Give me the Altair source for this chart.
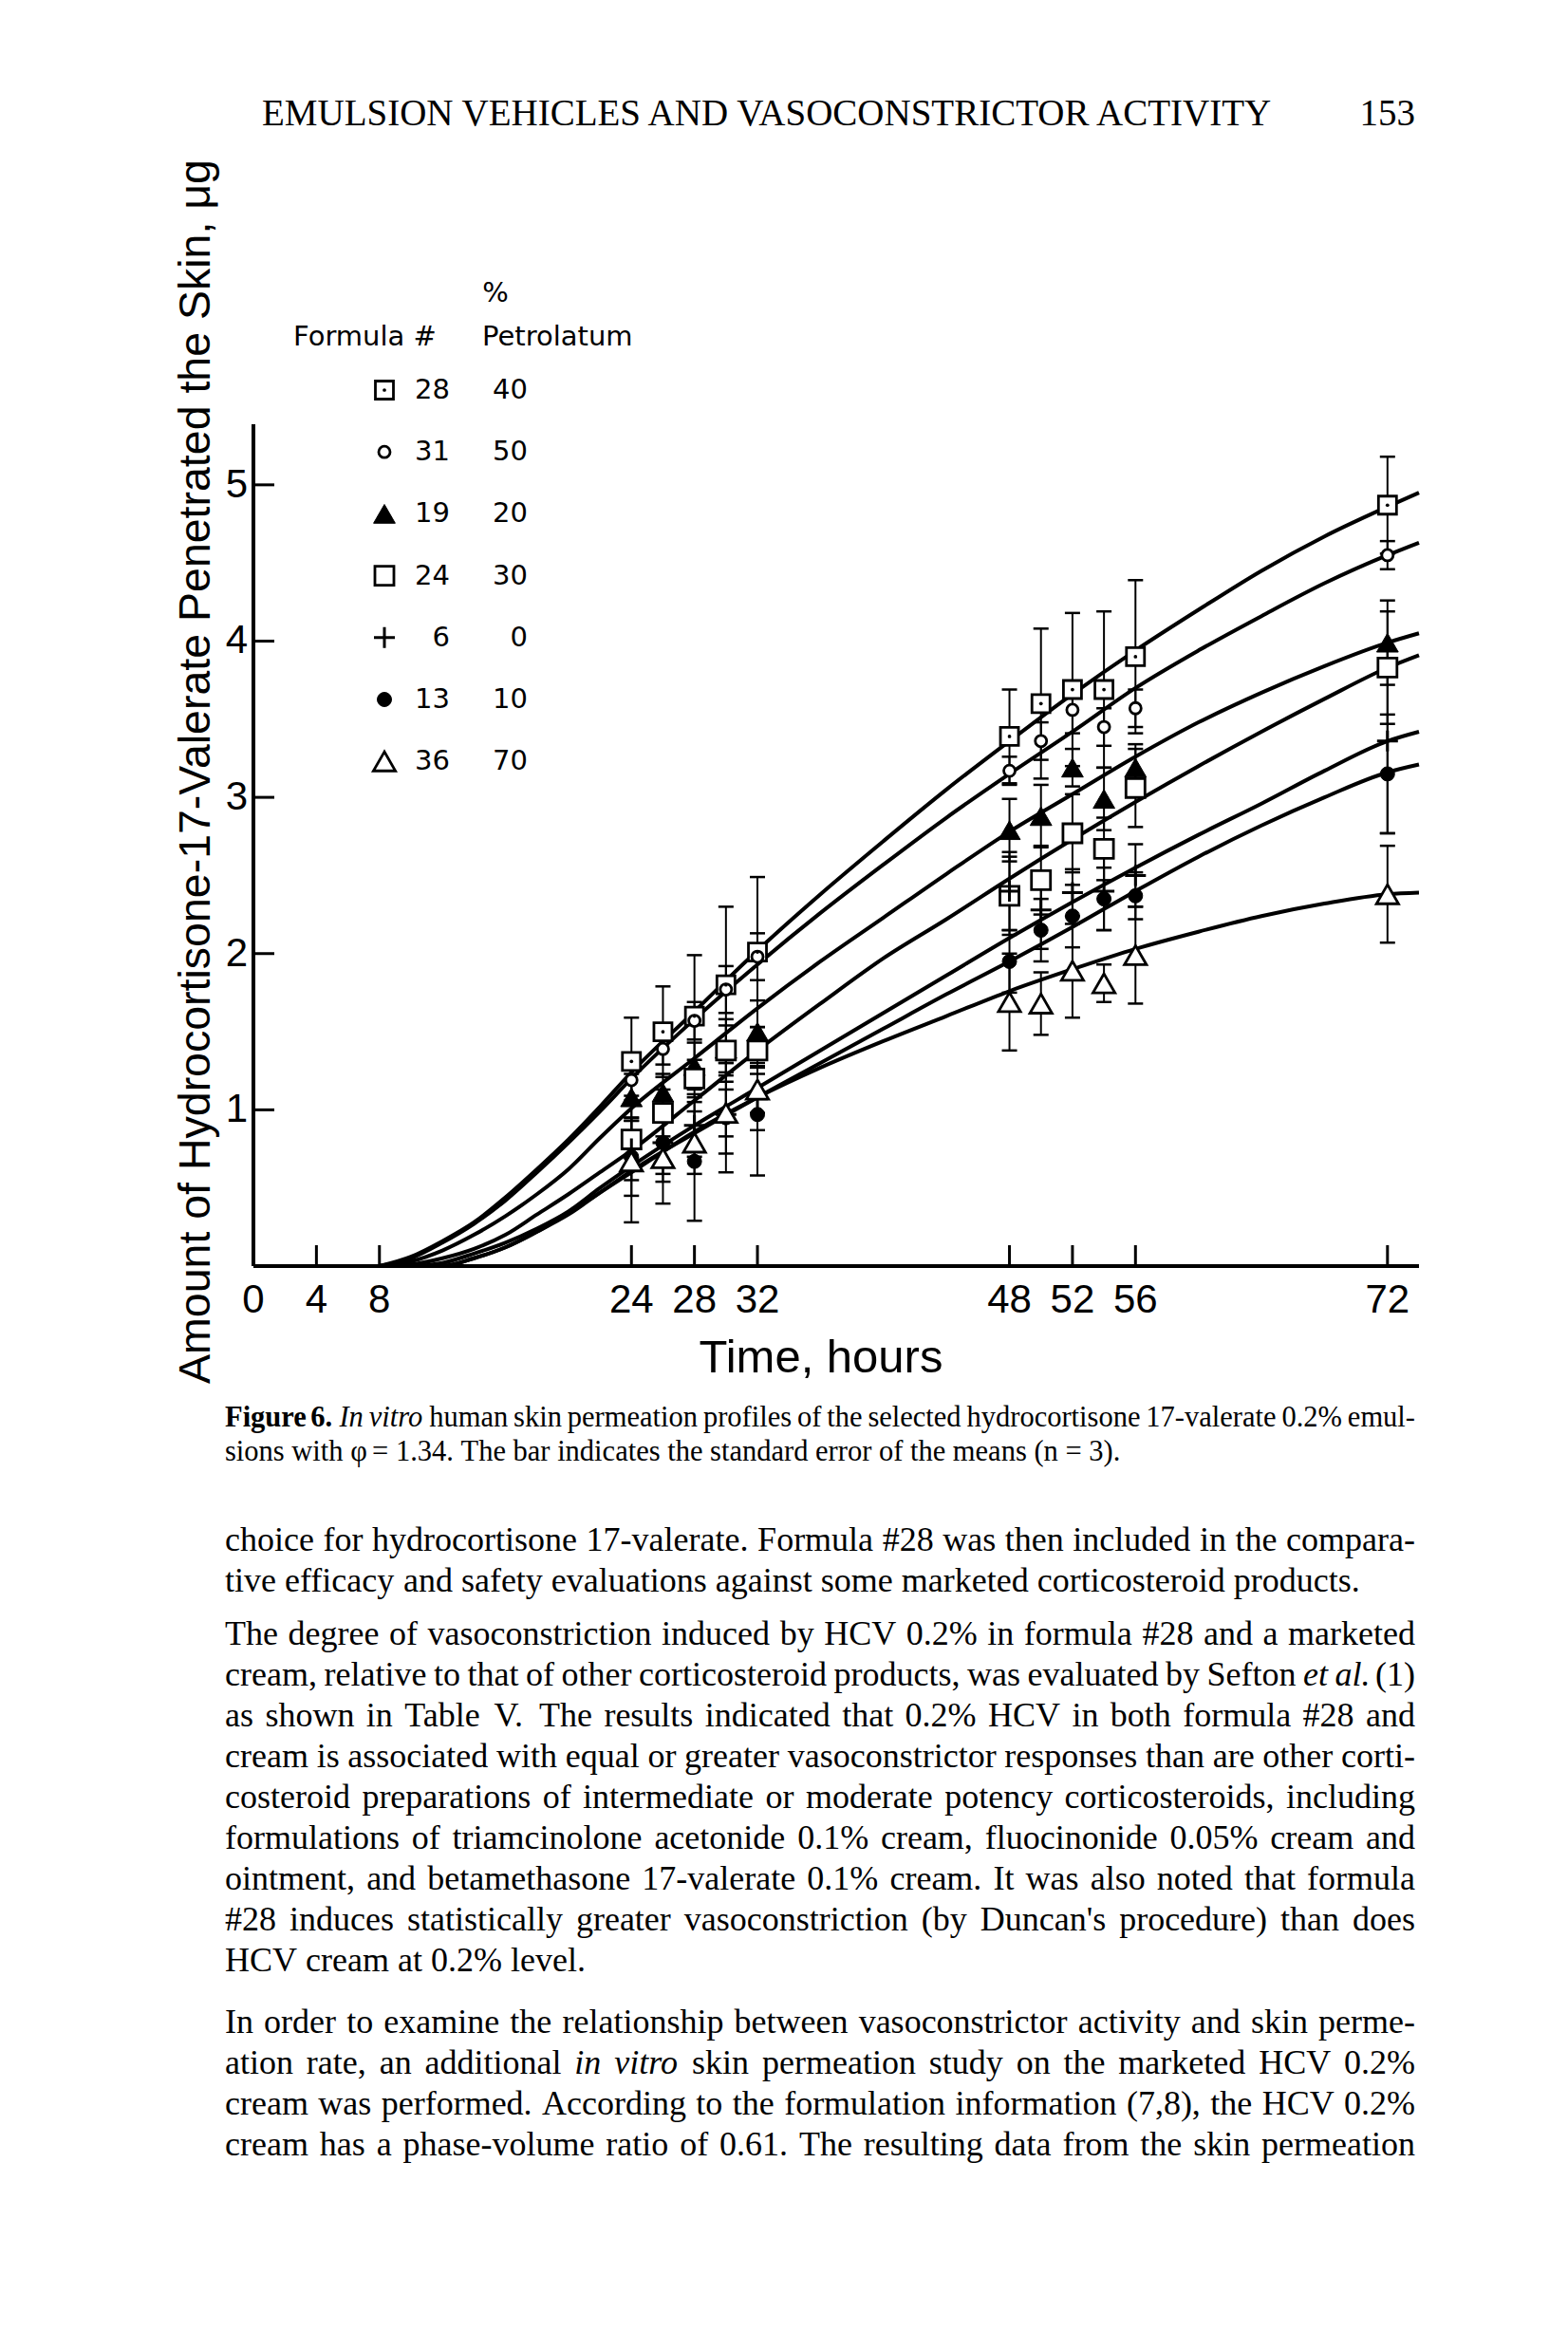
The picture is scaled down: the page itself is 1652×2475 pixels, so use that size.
import altair as alt
import pandas as pd

# ---------------- data ----------------
FORMULAS = ["28", "31", "19", "24", "6", "13", "36"]
PETROLATUM = ["40", "50", "20", "30", "0", "10", "70"]

SAMPLE_T = [24, 26, 28, 30, 32, 48, 50, 52, 54, 56, 72]
MEAN_28 = [1.31, 1.50, 1.60, 1.80, 2.01, 3.39, 3.60, 3.69, 3.69, 3.90, 4.87]
MEAN_31 = [1.19, 1.39, 1.57, 1.77, 1.98, 3.17, 3.36, 3.56, 3.45, 3.57, 4.55]
MEAN_19 = [1.08, 1.11, 1.28, 1.39, 1.50, 2.79, 2.88, 3.19, 2.99, 3.19, 3.99]
MEAN_24 = [0.81, 0.98, 1.20, 1.38, 1.38, 2.37, 2.47, 2.77, 2.67, 3.06, 3.83]
MEAN_6 = [0.75, 0.79, 0.90, 0.97, 1.07, 2.40, 2.28, 2.39, 2.40, 2.50, 3.36]
MEAN_13 = [0.70, 0.79, 0.67, 0.95, 0.97, 1.95, 2.15, 2.24, 2.35, 2.37, 3.15]
MEAN_36 = [0.67, 0.69, 0.79, 0.98, 1.13, 1.69, 1.68, 1.89, 1.81, 1.99, 2.38]

SE_28 = [0.28, 0.29, 0.39, 0.50, 0.48, 0.30, 0.48, 0.49, 0.50, 0.49, 0.31]
SE_31 = [0.10, 0.10, 0.12, 0.15, 0.15, 0.09, 0.12, 0.15, 0.12, 0.12, 0.09]
SE_19 = [0.15, 0.12, 0.15, 0.15, 0.20, 0.20, 0.20, 0.12, 0.20, 0.15, 0.27]
SE_24 = [0.12, 0.15, 0.12, 0.20, 0.15, 0.25, 0.22, 0.25, 0.20, 0.25, 0.36]
SE_6 = [0.20, 0.25, 0.20, 0.25, 0.20, 0.25, 0.25, 0.15, 0.25, 0.20, 0.59]
SE_13 = [0.25, 0.20, 0.38, 0.35, 0.39, 0.20, 0.20, 0.20, 0.20, 0.15, 0.38]
SE_36 = [0.39, 0.29, 0.20, 0.15, 0.15, 0.31, 0.20, 0.30, 0.12, 0.31, 0.31]

CURVE_T = [8, 10, 12, 14, 16, 18, 20, 22, 24, 28, 32, 36, 40, 44, 48, 52, 56, 60, 64, 68, 72, 74]
CURVE_28 = [0, 0.06, 0.16, 0.28, 0.44, 0.62, 0.81, 1.02, 1.24, 1.63, 2.02, 2.38, 2.72, 3.05, 3.36, 3.66, 3.94, 4.20, 4.45, 4.67, 4.86, 4.95]
CURVE_31 = [0, 0.05, 0.15, 0.27, 0.42, 0.60, 0.79, 0.99, 1.20, 1.58, 1.93, 2.26, 2.57, 2.87, 3.15, 3.42, 3.70, 3.94, 4.16, 4.37, 4.55, 4.63]
CURVE_19 = [0, 0.03, 0.10, 0.20, 0.32, 0.46, 0.62, 0.82, 1.01, 1.33, 1.65, 1.95, 2.23, 2.51, 2.78, 3.02, 3.26, 3.48, 3.67, 3.84, 3.99, 4.05]
CURVE_24 = [0, 0.01, 0.05, 0.11, 0.20, 0.33, 0.46, 0.60, 0.74, 1.06, 1.38, 1.68, 1.97, 2.22, 2.48, 2.73, 2.97, 3.20, 3.42, 3.63, 3.83, 3.91]
CURVE_6 = [0, 0, 0.02, 0.08, 0.15, 0.24, 0.35, 0.50, 0.64, 0.90, 1.14, 1.38, 1.62, 1.86, 2.10, 2.33, 2.55, 2.76, 2.96, 3.17, 3.36, 3.42]
CURVE_13 = [0, 0, 0, 0.05, 0.12, 0.22, 0.33, 0.47, 0.61, 0.85, 1.08, 1.30, 1.52, 1.74, 1.95, 2.17, 2.40, 2.62, 2.82, 3.00, 3.16, 3.21]
CURVE_36 = [0, 0, 0, 0.05, 0.12, 0.22, 0.34, 0.47, 0.60, 0.86, 1.08, 1.27, 1.44, 1.60, 1.76, 1.90, 2.03, 2.14, 2.24, 2.32, 2.38, 2.39]

X_TICKS = [0, 4, 8, 24, 28, 32, 48, 52, 56, 72]
Y_TICKS = [1, 2, 3, 4, 5]

HEADER = "EMULSION VEHICLES AND VASOCONSTRICTOR ACTIVITY"
PAGE_NO = "153"
X_TITLE = "Time, hours"
Y_TITLE = "Amount of Hydrocortisone-17-Valerate Penetrated the Skin, \u03bcg"
LEG_HEAD_1 = "Formula #"
LEG_HEAD_2 = "Petrolatum"
LEG_HEAD_3 = "%"
CAP_LINE1 = "Figure 6. In vitro human skin permeation profiles of the selected hydrocortisone 17-valerate 0.2% emul-"
CAP_LINE2 = "sions with \u03c6 = 1.34. The bar indicates the standard error of the means (n = 3)."
CAP_BOLD_WORDS = ["Figure", "6."]
CAP_ITALIC_WORDS = ["In", "vitro"]
BODY_P1 = [
    "choice for hydrocortisone 17-valerate. Formula #28 was then included in the compara-",
    "tive efficacy and safety evaluations against some marketed corticosteroid products.",
]
BODY_P2 = [
    "The degree of vasoconstriction induced by HCV 0.2% in formula #28 and a marketed",
    "cream, relative to that of other corticosteroid products, was evaluated by Sefton et al. (1)",
    "as shown in Table V. The results indicated that 0.2% HCV in both formula #28 and",
    "cream is associated with equal or greater vasoconstrictor responses than are other corti-",
    "costeroid preparations of intermediate or moderate potency corticosteroids, including",
    "formulations of triamcinolone acetonide 0.1% cream, fluocinonide 0.05% cream and",
    "ointment, and betamethasone 17-valerate 0.1% cream. It was also noted that formula",
    "#28 induces statistically greater vasoconstriction (by Duncan's procedure) than does",
    "HCV cream at 0.2% level.",
]
BODY_P3 = [
    "In order to examine the relationship between vasoconstrictor activity and skin perme-",
    "ation rate, an additional in vitro skin permeation study on the marketed HCV 0.2%",
    "cream was performed. According to the formulation information (7,8), the HCV 0.2%",
    "cream has a phase-volume ratio of 0.61. The resulting data from the skin permeation",
]
BODY_ITALIC = {(1, 1): ["et", "al."], (2, 1): ["in", "vitro"]}

MEANS = [MEAN_28, MEAN_31, MEAN_19, MEAN_24, MEAN_6, MEAN_13, MEAN_36]
SES = [SE_28, SE_31, SE_19, SE_24, SE_6, SE_13, SE_36]
CURVES = [CURVE_28, CURVE_31, CURVE_19, CURVE_24, CURVE_6, CURVE_13, CURVE_36]

# ---------------- layout (page pixels) ----------------
X_MAX, Y_MAX = 74.0, 5.4
W, H = 1228, 889
PAGE_X0, PAGE_Y0 = 267.0, 1334.0          # page position of (0, 0)
PX_H, PX_U = W / X_MAX, H / Y_MAX
TEXT_L, TEXT_R = 237.0, 1491.0


def T(px):
    return (px - PAGE_X0) / PX_H


def V(py):
    return (PAGE_Y0 - py) / PX_U


x_scale = alt.Scale(domain=[0, X_MAX], nice=False, zero=False)
y_scale = alt.Scale(domain=[0, Y_MAX], nice=False, zero=False)

# approximate Times advance widths (per 1000 em) used only to justify lines
_TW = {" ": 250, "a": 444, "b": 500, "c": 444, "d": 500, "e": 444, "f": 333, "g": 500,
       "h": 500, "i": 278, "j": 278, "k": 500, "l": 278, "m": 778, "n": 500, "o": 500,
       "p": 500, "q": 500, "r": 333, "s": 389, "t": 278, "u": 500, "v": 500, "w": 722,
       "x": 500, "y": 500, "z": 444, ".": 250, ",": 250, "-": 333, "#": 500, "%": 833,
       "(": 333, ")": 333, "'": 180, "=": 564, "A": 722, "B": 667, "C": 667, "D": 722,
       "E": 611, "F": 556, "G": 722, "H": 722, "I": 333, "J": 389, "K": 722, "L": 611,
       "M": 889, "N": 722, "O": 722, "P": 556, "Q": 722, "R": 667, "S": 556, "T": 611,
       "U": 722, "V": 722, "W": 944, "X": 722, "Y": 722, "Z": 611}


def tw(word, size, bold=False):
    w = sum(_TW.get(ch, 500) for ch in word) / 1000.0 * size
    return w * (1.06 if bold else 1.0)


def justify(line, base_y, size, do_justify, bold_words=(), italic_words=()):
    """Return (regular, bold, italic) word rows in page pixels."""
    words = line.split(" ")
    widths = [tw(w, size, w in bold_words) for w in words]
    gaps = len(words) - 1
    gap = (TEXT_R - TEXT_L - sum(widths)) / gaps if (do_justify and gaps) else 0.25 * size
    out = {"r": [], "b": [], "i": []}
    x = TEXT_L
    for w, wd in zip(words, widths):
        kind = "b" if w in bold_words else ("i" if w in italic_words else "r")
        out[kind].append((T(x), V(base_y), w))
        x += wd + gap
    return out


# ---------------- tables ----------------
curve_df = pd.DataFrame(
    [{"formula": f, "t": t, "v": v}
     for f, vals in zip(FORMULAS, CURVES) for t, v in zip(CURVE_T, vals)]
)
pts = []
for f, m, s in zip(FORMULAS, MEANS, SES):
    for t, mv, sv in zip(SAMPLE_T, m, s):
        pts.append({"formula": f, "t": t, "v": mv, "lo": mv - sv, "hi": mv + sv})
pts_df = pd.DataFrame(pts)
caps_df = pd.concat([
    pts_df[["t", "lo"]].rename(columns={"lo": "v"}),
    pts_df[["t", "hi"]].rename(columns={"hi": "v"}),
])

LEG_ROW0, LEG_STEP = 411.0, 65.2
leg_rows = []
for i, (f, p) in enumerate(zip(FORMULAS, PETROLATUM)):
    leg_rows.append({"formula": f, "pct": p, "t": T(405), "v": V(LEG_ROW0 + i * LEG_STEP)})
leg_df = pd.DataFrame(leg_rows)
marker_df = pd.concat([pts_df[["formula", "t", "v"]], leg_df[["formula", "t", "v"]]])


def enc(chart, x="t:Q", y="v:Q", **extra):
    return chart.encode(
        x=alt.X(x, scale=x_scale, axis=None),
        y=alt.Y(y, scale=y_scale, axis=None),
        **extra,
    )


curves = enc(alt.Chart(curve_df).mark_line(
    color="black", strokeWidth=4, interpolate="monotone"), detail="formula:N")

bars = enc(alt.Chart(pts_df).mark_rule(color="black", strokeWidth=2), y="lo:Q",
           y2="hi:Q")
caps = enc(alt.Chart(caps_df).mark_point(shape="M-1,0L1,0", size=256, filled=False,
                                         color="black", strokeWidth=2.5, opacity=1))

# axis lines and inward ticks
xline = alt.Chart(pd.DataFrame({"t": [0.0], "t2": [X_MAX], "v": [0.0]})).mark_rule(
    color="black", strokeWidth=4).encode(
    x=alt.X("t:Q", scale=x_scale, axis=None), x2="t2:Q",
    y=alt.Y("v:Q", scale=y_scale, axis=None))
yline = alt.Chart(pd.DataFrame({"t": [0.0], "v": [0.0], "v2": [V(447)]})).mark_rule(
    color="black", strokeWidth=4).encode(
    x=alt.X("t:Q", scale=x_scale, axis=None),
    y=alt.Y("v:Q", scale=y_scale, axis=None), y2="v2:Q")
xticks = alt.Chart(pd.DataFrame({"t": X_TICKS[1:]})).mark_rule(
    color="black", strokeWidth=3).encode(
    x=alt.X("t:Q", scale=x_scale, axis=None), y=alt.value(H), y2=alt.value(H - 22))
yticks = alt.Chart(pd.DataFrame({"v": Y_TICKS})).mark_rule(
    color="black", strokeWidth=3).encode(
    y=alt.Y("v:Q", scale=y_scale, axis=None), x=alt.value(0), x2=alt.value(22))

# markers
mk = alt.Chart(marker_df)
STYLE = {
    "28": dict(shape="square", size=361, filled=True, fill="white", stroke="black", strokeWidth=2.8),
    "31": dict(shape="circle", size=144, filled=True, fill="white", stroke="black", strokeWidth=2.8),
    "19": dict(shape="triangle-up", size=520, filled=True, fill="black", stroke="black", strokeWidth=1),
    "24": dict(shape="square", size=400, filled=True, fill="white", stroke="black", strokeWidth=2.8),
    "6": dict(shape="M-1,0L1,0M0,-1L0,1", size=484, filled=False, stroke="black", strokeWidth=3),
    "13": dict(shape="circle", size=225, filled=True, fill="black", stroke="black", strokeWidth=1),
    "36": dict(shape="triangle-up", size=540, filled=True, fill="white", stroke="black", strokeWidth=2.8),
}
marker_layers = []
for f in FORMULAS:
    marker_layers.append(
        enc(mk.transform_filter(alt.datum.formula == f).mark_point(opacity=1, **STYLE[f]))
    )
dots = enc(mk.transform_filter(alt.datum.formula == "28").mark_point(
    shape="circle", size=14, filled=True, color="black", opacity=1))


def text_layer(rows, **kw):
    df = pd.DataFrame(rows, columns=["t", "v", "label"])
    return enc(alt.Chart(df).mark_text(color="black", **kw), text="label:N")


# tick labels (through the scales)
x_labels = text_layer([(t, V(1370), str(t)) for t in X_TICKS], align="center",
                      baseline="middle", font="Liberation Sans", fontSize=42)
y_labels = text_layer([(T(261), v, str(v)) for v in Y_TICKS], align="right",
                      baseline="middle", font="Liberation Sans", fontSize=42)

# legend texts
LEG_FONT = "DejaVu Sans"
leg_num = text_layer([(T(474), r["v"], r["formula"]) for r in leg_rows],
                     align="right", baseline="middle", font=LEG_FONT, fontSize=29)
leg_pct = text_layer([(T(556), r["v"], r["pct"]) for r in leg_rows],
                     align="right", baseline="middle", font=LEG_FONT, fontSize=29)
leg_head = text_layer([(T(309), V(364), LEG_HEAD_1), (T(508), V(364), LEG_HEAD_2)],
                      align="left", baseline="alphabetic", font=LEG_FONT, fontSize=29)
leg_pct_head = text_layer([(T(522), V(318), LEG_HEAD_3)], align="center",
                          baseline="alphabetic", font=LEG_FONT, fontSize=29)

x_title = text_layer([(T(865), V(1446), X_TITLE)], align="center", baseline="alphabetic",
                     font="Liberation Sans", fontSize=49)
y_title = text_layer([(T(221), V(813), Y_TITLE)], align="center", baseline="alphabetic",
                     font="Liberation Sans", fontSize=46.5, angle=270)

# page texts
header = text_layer([(T(276), V(132), HEADER)], align="left", baseline="alphabetic",
                    font="Liberation Serif", fontSize=39)
page_no = text_layer([(T(1491), V(132), PAGE_NO)], align="right", baseline="alphabetic",
                     font="Liberation Serif", fontSize=39)

# caption (word-justified)
CAP_FS = 30.5
cap_r_rows, cap_b_rows, cap_i_rows = [], [], []
c1 = justify(CAP_LINE1, 1503, CAP_FS, True, CAP_BOLD_WORDS, CAP_ITALIC_WORDS)
c2 = justify(CAP_LINE2, 1539, CAP_FS, False)
for c in (c1, c2):
    cap_r_rows += c["r"]
    cap_b_rows += c["b"]
    cap_i_rows += c["i"]
cap_r = text_layer(cap_r_rows, align="left", baseline="alphabetic",
                   font="Liberation Serif", fontSize=CAP_FS)
cap_b = text_layer(cap_b_rows, align="left", baseline="alphabetic",
                   font="Liberation Serif", fontSize=CAP_FS, fontWeight="bold")
cap_i = text_layer(cap_i_rows, align="left", baseline="alphabetic",
                   font="Liberation Serif", fontSize=CAP_FS, fontStyle="italic")

# body (word-justified)
BODY_FS = 36
LINE = 43.0
body_r_rows, body_i_rows = [], []
y = 1634.0
for pi, (para, extra) in enumerate([(BODY_P1, 0), (BODY_P2, 13), (BODY_P3, 22)]):
    y += extra
    for li, line in enumerate(para):
        last = li == len(para) - 1 and pi < 2
        res = justify(line, y, BODY_FS, not last, (), BODY_ITALIC.get((pi, li), ()))
        body_r_rows += res["r"]
        body_i_rows += res["i"]
        y += LINE
body_r = text_layer(body_r_rows, align="left", baseline="alphabetic",
                    font="Liberation Serif", fontSize=BODY_FS)
body_i = text_layer(body_i_rows, align="left", baseline="alphabetic",
                    font="Liberation Serif", fontSize=BODY_FS, fontStyle="italic")

chart = alt.layer(
    curves, bars, caps, *marker_layers, dots,
    xline, yline, xticks, yticks, x_labels, y_labels,
    leg_num, leg_pct, leg_head, leg_pct_head,
    x_title, y_title, header, page_no, cap_r, cap_b, cap_i, body_r, body_i,
).properties(
    width=W, height=H,
    autosize=alt.AutoSizeParams(type="none"),
    padding={"left": 259, "top": 437, "right": 149, "bottom": 1110},
    background="white",
).configure_view(strokeWidth=0)

chart.save("out.html", embed_options={"renderer": "svg", "actions": False})
